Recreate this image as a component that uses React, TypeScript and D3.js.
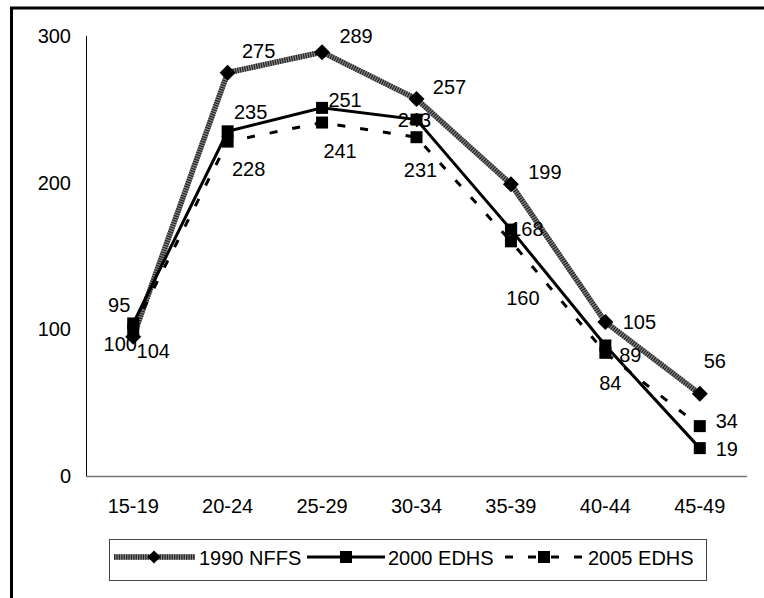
import React from "react";
import * as d3 from "d3";

const categories = ["15-19", "20-24", "25-29", "30-34", "35-39", "40-44", "45-49"];
const seriesNames = ["1990 NFFS", "2000 EDHS", "2005 EDHS"];
const nffs1990 = [95, 275, 289, 257, 199, 105, 56];
const edhs2000 = [104, 235, 251, 243, 168, 89, 19];
const edhs2005 = [100, 228, 241, 231, 160, 84, 34];
const yTicks = [0, 100, 200, 300];

// label offsets (layout only): [dx of text centre, dy of baseline] from the point
const labelOffsets = [
  [[-14, -25], [31, -15], [34, -9], [33, -5], [34, -5], [34, 7], [15, -26]],
  [[20, 35], [23, -12], [23, -1], [-2, 7.5], [16, 6.5], [25, 16.5], [27, 8]],
  [[-13, 22], [21, 34], [18, 35], [4, 40], [12, 64], [5, 37], [27, 2]],
];

const FONT = "'Liberation Sans', Arial, sans-serif";
const FS = 20;

export default function App() {
  const x = d3.scaleBand<string>().domain(categories).range([86, 747]);
  const y = d3.scaleLinear().domain([0, 300]).range([476, 36]);
  const cx = (c: string) => (x(c) as number) + x.bandwidth() / 2;
  const line = d3
    .line<number>()
    .x((_, i) => cx(categories[i]))
    .y((v) => y(v));

  const all = [nffs1990, edhs2000, edhs2005];

  const diamond = (px: number, py: number, r: number) =>
    `M${px},${py - r}L${px + r},${py}L${px},${py + r}L${px - r},${py}Z`;

  const grayLine = (d: string, key: string) => (
    <g key={key}>
      <path d={d} fill="none" stroke="#8c8c8c" strokeWidth={5.5} />
      <path d={d} fill="none" stroke="#262626" strokeWidth={5.5} strokeDasharray="1.3 1.1" />
    </g>
  );

  const legendY = 557;

  return (
    <svg
      width={764}
      height={598}
      style={{ position: "absolute", left: 0, top: 0, display: "block", background: "#fff" }}
      fontFamily={FONT}
    >
      <rect x={0} y={0} width={764} height={598} fill="#fff" />
      {/* outer frame */}
      <rect x={11.5} y={8} width={800} height={650} fill="none" stroke="#000" strokeWidth={3} />

      {/* axes */}
      <line x1={86.5} x2={86.5} y1={36} y2={476} stroke="#000" strokeWidth={1} />
      <line x1={86} x2={747} y1={476.5} y2={476.5} stroke="#777" strokeWidth={1.5} />

      {yTicks.map((t) => (
        <text key={t} x={71} y={y(t) + 7} textAnchor="end" fontSize={FS} fill="#000">
          {t}
        </text>
      ))}
      {categories.map((c) => (
        <text key={c} x={cx(c)} y={513} textAnchor="middle" fontSize={FS} fill="#000">
          {c}
        </text>
      ))}

      {/* lines */}
      {grayLine(line(nffs1990) as string, "l1990")}
      <path d={line(edhs2000) as string} fill="none" stroke="#000" strokeWidth={3} />
      <path d={line(edhs2005) as string} fill="none" stroke="#000" strokeWidth={3} strokeDasharray="8 15" />

      {/* labels */}
      {all.map((vals, s) =>
        vals.map((v, i) => (
          <text
            key={`lab${s}-${i}`}
            x={cx(categories[i]) + labelOffsets[s][i][0]}
            y={y(v) + labelOffsets[s][i][1]}
            textAnchor="middle"
            fontSize={FS}
            fill="#000"
          >
            {v}
          </text>
        ))
      )}

      {/* markers */}
      {nffs1990.map((v, i) => (
        <path key={`m0-${i}`} d={diamond(cx(categories[i]), y(v), 8)} fill="#000" />
      ))}
      {[edhs2000, edhs2005].map((vals, s) =>
        vals.map((v, i) => (
          <rect key={`m${s + 1}-${i}`} x={cx(categories[i]) - 6} y={y(v) - 6} width={12} height={12} fill="#000" />
        ))
      )}

      {/* legend */}
      <rect x={109.5} y={539.5} width={597} height={41} fill="#fff" stroke="#444" strokeWidth={1} />
      {grayLine(`M114,${legendY}L195,${legendY}`, "leg0")}
      <path d={diamond(154, legendY, 6.5)} fill="#000" />
      <text x={199} y={565} fontSize={FS} fill="#000">{seriesNames[0]}</text>

      <line x1={307} x2={385} y1={legendY} y2={legendY} stroke="#000" strokeWidth={3} />
      <rect x={340} y={legendY - 6} width={12} height={12} fill="#000" />
      <text x={388} y={565} fontSize={FS} fill="#000">{seriesNames[1]}</text>

      <line x1={505} x2={583} y1={legendY} y2={legendY} stroke="#000" strokeWidth={3} strokeDasharray="8 15" />
      <rect x={538} y={legendY - 6} width={12} height={12} fill="#000" />
      <text x={588} y={565} fontSize={FS} fill="#000">{seriesNames[2]}</text>
    </svg>
  );
}
